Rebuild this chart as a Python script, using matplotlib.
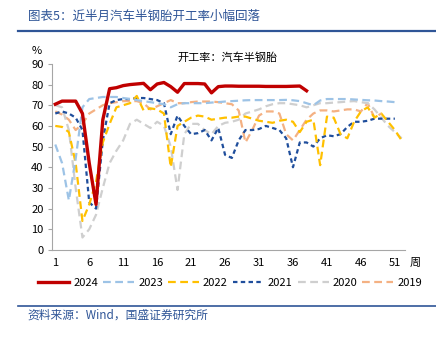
import numpy as np
import matplotlib

matplotlib.use("Agg")
import matplotlib.pyplot as plt
from matplotlib.lines import Line2D

plt.rcParams["font.family"] = ["Noto Sans CJK SC", "DejaVu Sans"]

nan = np.nan
weeks = np.arange(1, 53)

# weekly operating rate of semi-steel tyres, %
y2024 = [70.5, 72, 72, 72, 66, 42, 22, 63, 78, 78.5, 79.5, 80, 80.3, 80.6, 77.5,
         80.3, 81, 79, 76.3, 80.5, 80.5, 80.5, 80.3, 76, 79, 79.3, 79.3, 79.2, 79.2,
         79.2, 79.2, 79.1, 79.1, 79.1, 79.1, 79.2, 79.3, 77]
y2023 = [51, 42, 24, 44, 69, 73, 73.5, 74, 74, 74, 73.5, 73, 72.5, 72, 71.5, 71,
         70.5, 69, 70.5, 71, 71, 71, 71, 71.3, 71.5, 71.8, 72, 72.2, 72.4, 72.5,
         72.5, 72.5, 72.5, 72.5, 72.6, 72.4, 72, 71, 70, 72.3, 73, 73, 73, 73, 72.8,
         72.6, 72.4, 72.3, 72, 71.8, 71.5]
y2022 = [60, 59.5, 57, 42, 14, 22, 33, 52, 61, 69, 70, 71, 74.5, 67.5, 68.5, 68,
         66, 40, 60, 62, 64, 65, 64.5, 63, 63.5, 64, 64, 64.5, 64.5, 63.5, 62.5, 62,
         61.5, 62.5, 63, 62, 57, 62, 63, 41, 64.5, 64, 56, 54, 62, 67, 69, 64, 66,
         62, 58, 53]
y2021 = [66, 67, 66, 64, 58, 23, 20, 53, 71, 72.5, 73, 73, 73.5, 73.5, 73, 72.5,
         71, 56, 65, 60, 56, 56.5, 58, 53, 59, 46, 44.5, 53, 58, 58, 58.5, 60, 59,
         58, 54, 40, 52, 52, 50, 54, 55.5, 55, 56, 59.5, 62, 62, 62.5, 63.5, 63.5,
         63.5, 63.5]
y2020 = [70, 69, 58, 30, 6, 10, 17, 30, 42, 48, 53, 61, 63, 61, 59, 62, 60, 50,
         29, 56, 61, 61, 58, 56, 60, 61.5, 62, 63, 66, 67, 68, 69.5, 70.5, 71, 71,
         70.5, 70, 69, 70, 71, 71, 71.3, 71.5, 71.8, 72, 71.5, 71, 68, 64, 60, 57, 54]
y2019 = [67, 65.5, 63, 58, 61, 66, 68, 70, 71, 71.5, 72, 72, 72, 71, 68, 69.5, 71,
         72.5, 71, 71, 71.5, 71.8, 71.8, 71.8, 71.5, 71, 70.5, 67.5, 52, 58, 65, 67,
         67, 66, 56, 53, 58, 63, 66, 67.5, 67.5, 67, 67.5, 68, 68, 67, 71, 64, 66]

series = [
    ("2024", y2024, "#C00000", "-", 2.4),
    ("2023", y2023, "#9DC3E6", (0, (3.5, 2)), 1.6),
    ("2022", y2022, "#FFC000", (0, (3.5, 2)), 1.6),
    ("2021", y2021, "#1F4E9C", (0, (2, 1.5)), 1.6),
    ("2020", y2020, "#CFCFCF", (0, (3.5, 2)), 1.6),
    ("2019", y2019, "#F4B183", (0, (3.5, 2)), 1.6),
]

fig = plt.figure(figsize=(4.36, 3.40), dpi=100)
ax = fig.add_axes([0.119, 0.265, 0.810, 0.547])

# draw older years first so 2024 sits on top
for name, vals, color, ls, lw in reversed(series):
    ax.plot(weeks[:len(vals)], vals, color=color, linestyle=ls, lw=lw, label=name)

ax.set_xlim(0.5, 52.5)
ax.set_ylim(0, 90)
ax.set_xticks(range(1, 53, 5))
ax.set_yticks(range(0, 91, 10))
ax.tick_params(axis="x", length=0, labelsize=8, pad=6)
ax.tick_params(axis="y", length=3, color="#A6A6A6", labelsize=8, pad=3)
for side in ["top", "right"]:
    ax.spines[side].set_visible(False)
for side in ["left", "bottom"]:
    ax.spines[side].set_color("#A6A6A6")
    ax.spines[side].set_linewidth(0.8)

handles, labels = ax.get_legend_handles_labels()
fig.legend(handles[::-1], labels[::-1], loc="center", bbox_to_anchor=(0.528, 0.168),
           ncol=6, frameon=False, fontsize=8, handlelength=2.8,
           handletextpad=0.35, columnspacing=0.45)

blue = "#2F5597"
fig.text(0.064, 0.953, "图表5：近半月汽车半钢胎开工率小幅回落", fontsize=9,
         color=blue, va="center", ha="left")
fig.add_artist(Line2D([0.041, 1.0], [0.910, 0.910], color="#2F5597", lw=1.6))
fig.text(0.085, 0.850, "%", fontsize=8, ha="center", va="center")
fig.text(0.521, 0.832, "开工率：汽车半钢胎", fontsize=8, ha="center", va="center")
fig.text(0.952, 0.226, "周", fontsize=8, ha="center", va="center")
fig.add_artist(Line2D([0.041, 1.0], [0.100, 0.100], color="#2F5597", lw=1.2))
fig.text(0.064, 0.074, "资料来源：Wind，国盛证券研究所", fontsize=8.5,
         color=blue, va="center", ha="left")

fig.savefig("out.png", dpi=100)
